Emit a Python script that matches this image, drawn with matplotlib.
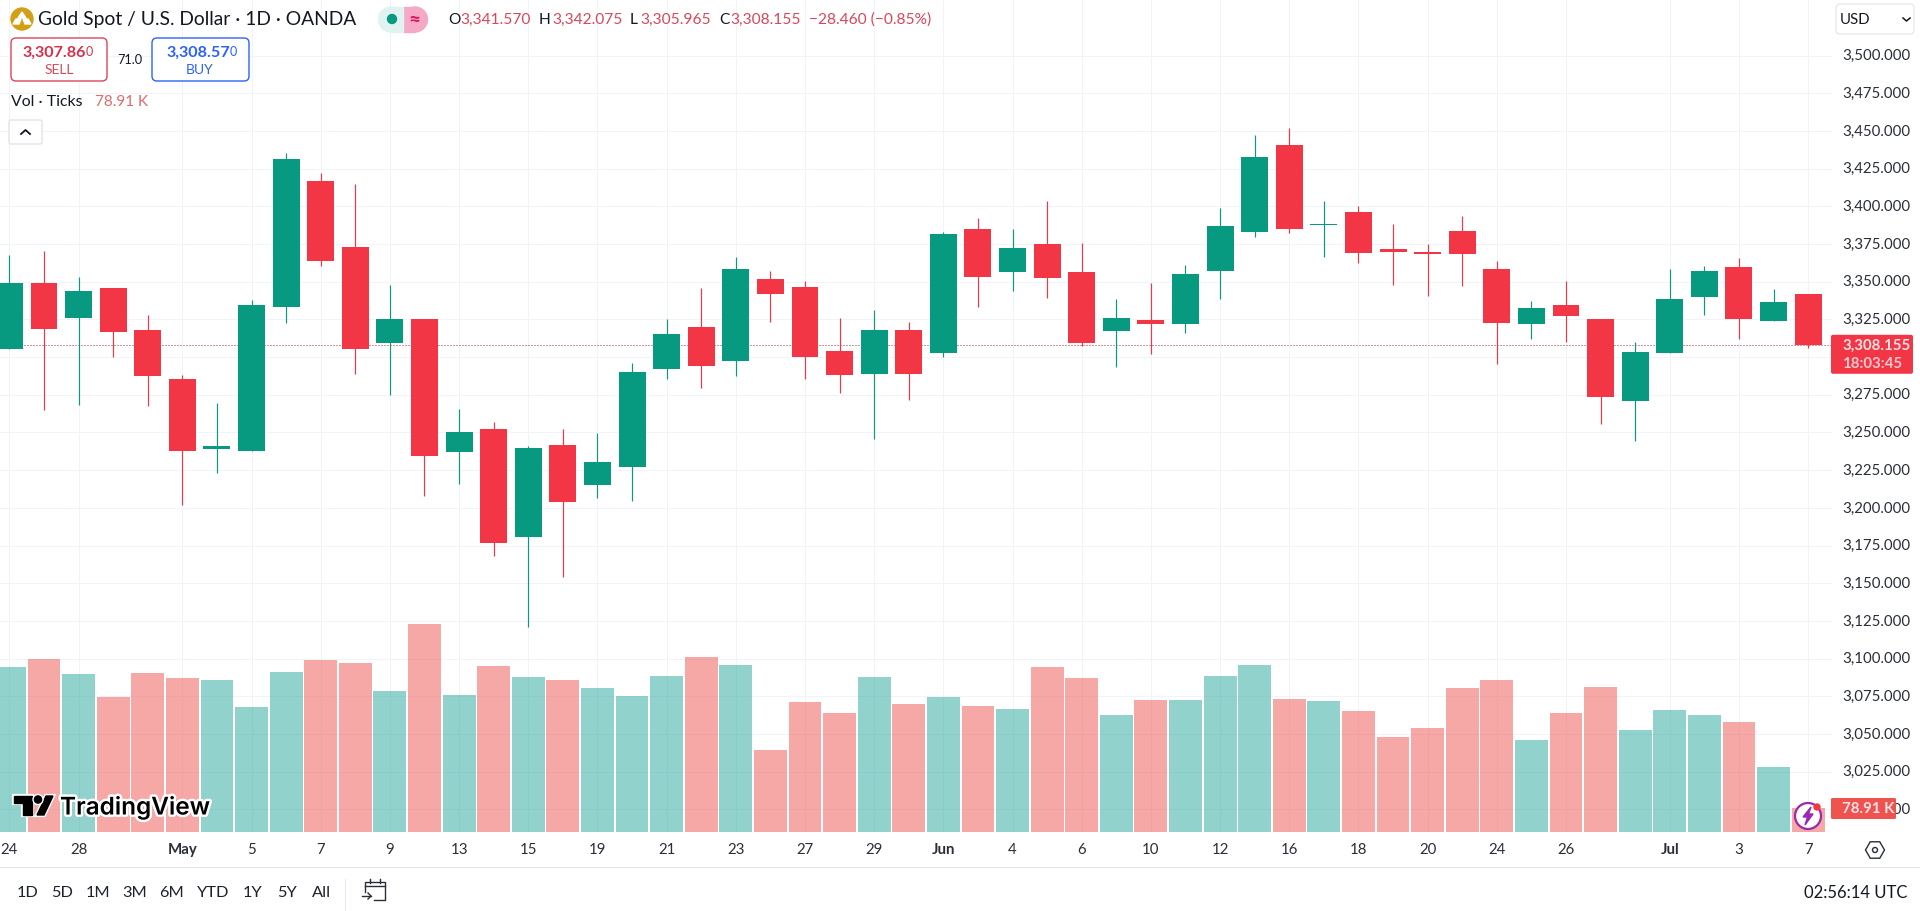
"""Gold spot daily candlestick chart in the TradingView layout."""

import matplotlib

matplotlib.use("Agg")
import matplotlib.patheffects as pe
import matplotlib.pyplot as plt
import numpy as np
from matplotlib.patches import Circle, FancyBboxPatch, Polygon, Rectangle, RegularPolygon
from matplotlib.transforms import ScaledTranslation

plt.rcParams["font.family"] = ["Lato", "DejaVu Sans"]

opens = [
    3305.6, 3349.4, 3326.2, 3346.1, 3318.2, 3285.7, 3239.3, 3237.9, 3333.5, 3417.0,
    3373.3, 3309.6, 3325.5, 3237.3, 3252.5, 3180.9, 3241.9, 3215.4, 3227.3, 3292.3,
    3320.2, 3297.6, 3352.0, 3346.7, 3304.3, 3289.0, 3318.2, 3303.0, 3385.2, 3356.7,
    3375.3, 3356.7, 3317.5, 3324.8, 3322.2, 3357.3, 3383.2, 3440.9, 3387.9, 3396.5,
    3371.9, 3369.9, 3383.9, 3358.7, 3322.2, 3334.8, 3325.5, 3271.1, 3303.0, 3340.1,
    3360.0, 3324.2, 3341.57,
]
highs = [
    3368.0, 3370.6, 3353.4, 3346.1, 3328.2, 3288.4, 3269.8, 3338.1, 3435.4, 3422.3,
    3415.0, 3348.1, 3325.5, 3265.6, 3257.2, 3241.3, 3252.5, 3249.9, 3296.3, 3325.5,
    3346.1, 3366.6, 3357.3, 3350.5, 3326.2, 3331.5, 3323.5, 3383.2, 3392.5, 3385.2,
    3403.8, 3375.7, 3338.8, 3349.4, 3361.3, 3399.1, 3447.6, 3452.2, 3403.8, 3400.5,
    3388.5, 3375.3, 3393.8, 3364.0, 3337.4, 3350.7, 3325.5, 3310.2, 3358.7, 3360.7,
    3366.0, 3345.4, 3342.075,
]
lows = [
    3305.6, 3265.1, 3268.5, 3300.3, 3267.4, 3202.1, 3223.4, 3237.9, 3322.8, 3360.7,
    3289.0, 3275.1, 3208.1, 3216.1, 3168.3, 3121.0, 3154.4, 3206.8, 3204.8, 3285.7,
    3279.7, 3287.7, 3323.5, 3285.5, 3276.4, 3245.9, 3271.8, 3300.3, 3333.5, 3344.1,
    3339.4, 3307.6, 3293.7, 3302.3, 3316.2, 3338.8, 3379.9, 3382.5, 3366.6, 3362.6,
    3348.1, 3340.8, 3347.4, 3295.7, 3312.2, 3310.2, 3255.9, 3244.6, 3303.0, 3328.2,
    3312.2, 3324.2, 3305.965,
]
closes = [
    3349.4, 3318.9, 3344.1, 3316.9, 3287.7, 3237.9, 3241.3, 3334.8, 3431.6, 3364.0,
    3305.6, 3325.5, 3234.6, 3250.5, 3176.9, 3239.9, 3204.1, 3230.6, 3290.3, 3315.6,
    3294.3, 3358.7, 3342.1, 3300.3, 3288.4, 3318.2, 3289.0, 3381.9, 3353.4, 3372.6,
    3352.7, 3309.6, 3326.2, 3322.2, 3355.4, 3387.2, 3433.0, 3385.2, 3388.5, 3369.3,
    3369.9, 3368.6, 3368.6, 3322.8, 3332.8, 3327.5, 3273.8, 3303.6, 3338.8, 3357.3,
    3325.5, 3336.8, 3308.155,
]
volumes_k = [
    542.5, 568.8, 519.5, 443.9, 522.8, 506.4, 499.8, 411.0, 526.1, 565.5,
    555.7, 463.6, 683.9, 450.5, 545.8, 509.6, 499.8, 473.5, 447.2, 512.9,
    575.4, 549.1, 269.6, 427.4, 391.3, 509.6, 420.9, 443.9, 414.3, 404.4,
    542.5, 506.4, 384.7, 434.0, 434.0, 512.9, 549.1, 437.3, 430.7, 397.8,
    312.4, 342.0, 473.5, 499.8, 302.5, 391.3, 476.8, 335.4, 401.1, 384.7,
    361.7, 213.7, 78.91,
]
date_tick_index = [0, 2, 5, 7, 9, 11, 13, 15, 17, 19, 21, 23, 25, 27, 29, 31, 33, 35, 37, 39, 41, 43, 45, 48, 50, 52]
date_tick_labels = ["24", "28", "May", "5", "7", "9", "13", "15", "19", "21", "23", "27", "29",
                    "Jun", "4", "6", "10", "12", "16", "18", "20", "24", "26", "Jul", "3", "7"]
month_labels = {"May", "Jun", "Jul"}
price_ticks = list(range(3000, 3525, 25))
hidden_price_tick = 3300  # sits under the last price tag
range_buttons = ["1D", "5D", "1M", "3M", "6M", "YTD", "1Y", "5Y", "All"]

GREEN = "#089981"
RED = "#F23645"
VOL_GREEN = "#26A69A"
VOL_RED = "#EF5350"
GRID = "#F0F3FA"
INK = "#131722"
W, H = 1920, 912
PANE_W, PANE_H = 1832, 833

fig = plt.figure(figsize=(W / 100, H / 100), dpi=100, facecolor="white")
rect = [0, (H - PANE_H) / H, PANE_W / W, PANE_H / H]
ax = fig.add_axes(rect, zorder=1)
ax_vol = fig.add_axes(rect, zorder=2, sharex=ax)

idx = np.arange(len(closes))
opens = np.array(opens)
closes = np.array(closes)
is_up = closes >= opens
candle_colors = [GREEN if up else RED for up in is_up]

ax.grid(True, color=GRID, linewidth=0.72, zorder=0)
ax.set_axisbelow(True)
ax.axhline(closes[-1], color="#B8283C", linewidth=0.72, linestyle=(0, (1, 2)), zorder=1)
ax.vlines(idx, lows, highs, colors=candle_colors, linewidth=0.85, zorder=2)
ax.bar(idx, closes - opens, bottom=opens, width=0.78, color=candle_colors, linewidth=0, zorder=3)

ax.set_xlim(-0.272, 52.69)
ax.set_ylim(2985.0, 3537.5)
ax.set_xticks(date_tick_index)
ax.set_xticklabels(date_tick_labels)
ax.set_yticks(price_ticks)
ax.set_yticklabels(["" if p == hidden_price_tick else f"{p:,.3f}" for p in price_ticks])
ax.yaxis.tick_right()
ax.tick_params(axis="both", length=0, labelsize=10.8, labelcolor="#2A2E39")
ax.tick_params(axis="y", pad=7.5)
ax.tick_params(axis="x", pad=7)
for lbl in ax.get_xticklabels():
    if lbl.get_text() in month_labels:
        lbl.set_fontweight("bold")
nudge_up = ScaledTranslation(0, 1.4 / 72, fig.dpi_scale_trans)
for lbl in ax.get_yticklabels():
    lbl.set_transform(lbl.get_transform() + nudge_up)
for side in ax.spines.values():
    side.set_visible(False)

ax_vol.bar(idx, volumes_k, width=0.95, color=[VOL_GREEN if up else VOL_RED for up in is_up],
           alpha=0.5, linewidth=0)
ax_vol.set_ylim(0, PANE_H / 0.304)
ax_vol.axis("off")

# page furniture, drawn in pixel coordinates on a transparent overlay
ui = fig.add_axes([0, 0, 1, 1], zorder=3)
ui.set_xlim(0, W)
ui.set_ylim(H, 0)
ui.axis("off")


def label(x, y, s, size=10.6, color=INK, ha="left", **kw):
    return ui.text(x, y, s, fontsize=size, color=color, ha=ha, va="center", **kw)


def box(x0, y0, x1, y1, face="white", edge="none", lw=1, rad=3):
    ui.add_patch(FancyBboxPatch((x0 + rad, y0 + rad), x1 - x0 - 2 * rad, y1 - y0 - 2 * rad,
                                boxstyle=f"round,pad={rad}", facecolor=face, edgecolor=edge, linewidth=lw))


# header
ui.add_patch(Circle((22, 20), 11, color="#D1A016"))
ui.add_patch(Polygon([[22, 13], [26, 19], [18, 19]], color="white"))
ui.add_patch(Polygon([[16, 20], [21, 20], [19, 25], [13, 25]], color="white"))
ui.add_patch(Polygon([[23, 20], [28, 20], [31, 25], [25, 25]], color="white"))
label(38, 20, "Gold Spot / U.S. Dollar · 1D · OANDA", size=13.9)
ui.add_patch(Rectangle((403, 8), 12, 25, color="#F5A9C4"))
ui.add_patch(Circle((415, 20.5), 12.5, color="#F5A9C4"))
ui.add_patch(Circle((391, 20.5), 12.5, color="#E0F3F0"))
ui.add_patch(Rectangle((391, 8), 12, 25, color="#E0F3F0"))
ui.add_patch(Circle((392, 20), 4.5, color=GREEN))
label(414, 20, "≈", size=15, color="#D81B60", ha="center", fontweight="bold")

ohlc_parts = [(448, "O", 460, "3,341.570"), (539, "H", 552, "3,342.075"),
              (630, "L", 640, "3,305.965"), (719, "C", 730, "3,308.155")]
for kx, key, vx, val in ohlc_parts:
    label(kx, 20, key, size=11.2)
    label(vx, 20, val, size=11.2, color="#D9475A")
label(809, 20, "−28.460 (−0.85%)", size=11.2, color="#D9475A")

# sell and buy boxes
box(11, 39, 107, 82, edge="#D9475A", lw=1, rad=5)
label(86, 53, "3,307.86", size=11.6, color="#D9304A", ha="right", fontweight="bold")
label(86, 52, "0", size=9, color="#D9304A")
label(59, 70, "SELL", size=10, color="#D9475A", ha="center")
label(130, 60, "71.0", size=9.2, ha="center")
box(152, 39, 249, 82, edge="#2962FF", lw=1, rad=5)
label(230, 53, "3,308.57", size=11.6, color="#2962FF", ha="right", fontweight="bold")
label(230, 52, "0", size=9, color="#2962FF")
label(200, 70, "BUY", size=10, color="#2962FF", ha="center")

label(11, 102, "Vol · Ticks", size=11.4)
label(95, 102, "78.91 K", size=11, color="#E36A6A")
box(9, 121, 42, 145, edge="#E0E3EB", lw=1, rad=2)
ui.plot([21, 25.5, 30], [135, 131, 135], color=INK, linewidth=1.3)

# currency selector
box(1836, 5, 1914, 35, edge="#E8EAF0", lw=1, rad=4)
label(1840, 20, "USD", size=10.8)
ui.plot([1903, 1906.5, 1910], [19, 22, 19], color=INK, linewidth=1.1)

# last price and last volume tags
close_y = H - ax.transData.transform((0, closes[-1]))[1]
box(1831, close_y - 10, 1913, close_y + 29, face=RED, rad=2)
label(1842, close_y + 0.5, f"{closes[-1]:,.3f}", size=10.8, color="#FFE3E6", fontweight="bold")
label(1842, close_y + 18, "18:03:45", size=10.8, color="#FFC9CE", fontweight="bold")
box(1831, 799, 1896, 820, face=VOL_RED, rad=1.5)
label(1842, 809.5, "78.91 K", size=10.8, color="#FFE3E6", fontweight="bold")

# watermark
halo = [pe.withStroke(linewidth=3, foreground="white")]
logo_parts = [
    Polygon([[14, 797], [32, 797], [32, 816], [23, 816], [23, 804], [14, 804]], color="black"),
    Polygon([[46, 797], [53, 797], [44, 816], [37, 816]], color="black"),
    Circle((38, 800.5), 3.6, color="black"),
]
for part in logo_parts:
    part.set_path_effects(halo)
    ui.add_patch(part)
label(60, 808, "TradingView", size=17.5, color="black", fontweight="semibold", family=["Inter", "DejaVu Sans"],
      path_effects=[pe.withStroke(linewidth=3.5, foreground="white")])

# lightning badge
ui.add_patch(Circle((1808, 817), 13, facecolor="white", edgecolor="#9C27B0", linewidth=1.6))
ui.add_patch(Polygon([[1811, 808], [1803, 818], [1807.5, 818], [1805, 826], [1813, 815], [1808.5, 815]],
                     color="#9C27B0"))
ui.add_patch(Circle((1817, 808), 3, color=RED))

# settings icon
ui.add_patch(RegularPolygon((1875, 851), 6, radius=9.5, orientation=np.pi / 6,
                            facecolor="none", edgecolor="#2A2E39", linewidth=1))
ui.add_patch(Circle((1875, 851), 2.5, facecolor="none", edgecolor="#2A2E39", linewidth=1))

# bottom toolbar
ui.plot([0, W], [868, 868], color="#E0E3EB", linewidth=0.72)
ui.plot([345, 345], [880, 912], color="#E9EBF1", linewidth=0.72)
range_x = [28, 62.5, 98.5, 135, 172, 213, 253, 287, 322]
for bx, name in zip(range_x, range_buttons):
    label(bx, 893, name, size=11.8, color="#1E222D", ha="center")

ui.plot([365, 365, 385, 385, 374], [893, 883, 883, 901, 901], color="#2A2E39", linewidth=1)
ui.plot([365, 385], [887, 887], color="#2A2E39", linewidth=1)
ui.plot([370, 370], [880, 884], color="#2A2E39", linewidth=1)
ui.plot([380, 380], [880, 884], color="#2A2E39", linewidth=1)
ui.plot([362, 371], [897, 897], color="#2A2E39", linewidth=1)
ui.plot([368, 371, 368], [894, 897, 900], color="#2A2E39", linewidth=1)
label(1907, 893, "02:56:14 UTC", size=12, ha="right")

fig.savefig("out.png", dpi=100, facecolor="white")
plt.close(fig)
